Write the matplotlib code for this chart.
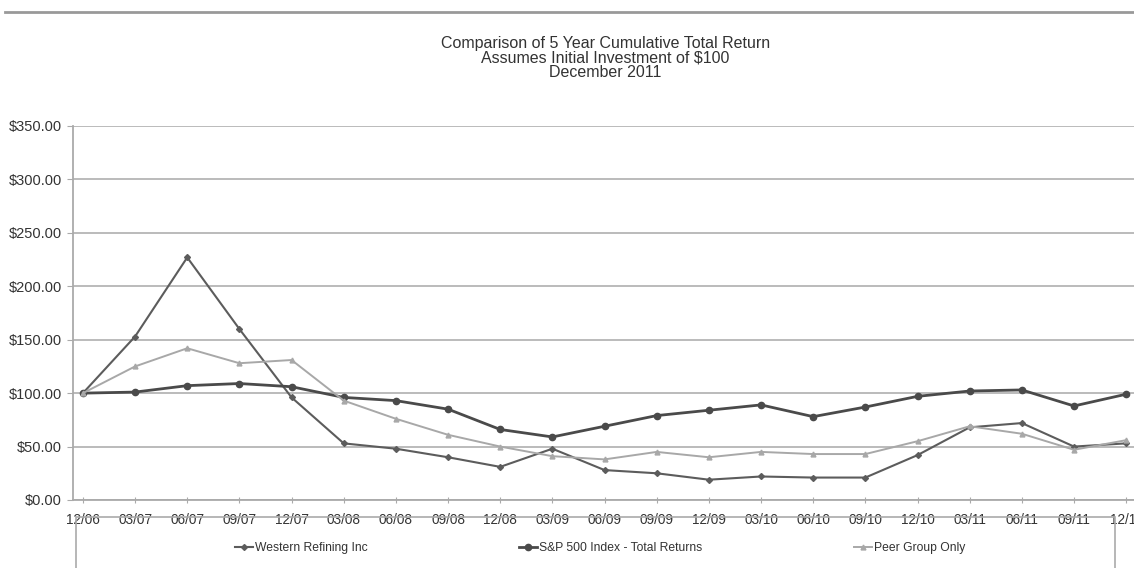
import matplotlib
matplotlib.use('Agg')
import matplotlib.pyplot as plt
from matplotlib.lines import Line2D
from matplotlib.patches import Rectangle

plt.rcParams['font.family'] = ['Liberation Sans', 'DejaVu Sans']

quarters = ['12/06', '03/07', '06/07', '09/07', '12/07', '03/08', '06/08', '09/08', '12/08',
            '03/09', '06/09', '09/09', '12/09', '03/10', '06/10', '09/10', '12/10', '03/11',
            '06/11', '09/11', '12/11']

western = [100, 153, 227, 160, 96, 53, 48, 40, 31, 48, 28, 25, 19, 22, 21, 21, 42, 68, 72, 50, 53]
sp500 = [100, 101, 107, 109, 106, 96, 93, 85, 66, 59, 69, 79, 84, 89, 78, 87, 97, 102, 103, 88, 99]
peer = [100, 125, 142, 128, 131, 93, 76, 61, 50, 41, 38, 45, 40, 45, 43, 43, 55, 69, 62, 47, 56]

labels = ['Western Refining Inc', 'S&P 500 Index - Total Returns', 'Peer Group Only']
yticks = [0, 50, 100, 150, 200, 250, 300, 350]

fig = plt.figure(figsize=(11.34, 5.68), dpi=100)
ax = fig.add_axes([73 / 1134, 68 / 568, 1061 / 1134, 374 / 568])

x = list(range(len(quarters)))
h1, = ax.plot(x, western, color='#5c5c5c', lw=1.5, marker='D', ms=3, label=labels[0])
h2, = ax.plot(x, sp500, color='#4a4a4a', lw=2.0, marker='o', ms=4.5, label=labels[1])
h3, = ax.plot(x, peer, color='#a8a8a8', lw=1.4, marker='^', ms=3.5, label=labels[2])

ax.set_xlim(-0.19, 20.15)
ax.set_ylim(0, 350)
ax.set_xticks(x)
ax.set_xticklabels(quarters)
ax.set_yticks(yticks)
ax.set_yticklabels(['${:.2f}'.format(v) for v in yticks])
ax.yaxis.grid(True, color='#b5b5b5', lw=1.3)
ax.set_axisbelow(True)
for s in ['top', 'right']:
    ax.spines[s].set_visible(False)
for s in ['left', 'bottom']:
    ax.spines[s].set_color('#aaaaaa')
    ax.spines[s].set_linewidth(1.3)
ax.tick_params(axis='both', colors='#aaaaaa', labelcolor='#333333', length=4)
ax.tick_params(axis='y', labelsize=10.5, pad=4)
ax.tick_params(axis='x', labelsize=9.8, direction='inout', pad=7)

fig.text(0.534, 0.898, 'Comparison of 5 Year Cumulative Total Return\nAssumes Initial Investment of $100\nDecember 2011',
         ha='center', va='center', fontsize=11.5, color='#333333', linespacing=0.96)

# top rule and legend box
fig.add_artist(Line2D([5 / 1134, 1], [1 - 12 / 568, 1 - 12 / 568], color='#999999', lw=2))
fig.add_artist(Rectangle((76 / 1134, -0.05), (1115 - 76) / 1134, 0.05 + (568 - 517) / 568,
                         fill=False, edgecolor='#aaaaaa', lw=1.2))

fig.legend(handles=[h1, h2, h3], loc='center', bbox_to_anchor=(600 / 1134, 1 - 548 / 568),
           ncol=3, frameon=False, fontsize=8.7, columnspacing=12.5, handlelength=1.5,
           handletextpad=0.2, labelcolor='#333333')

fig.savefig('out.png', dpi=100)
